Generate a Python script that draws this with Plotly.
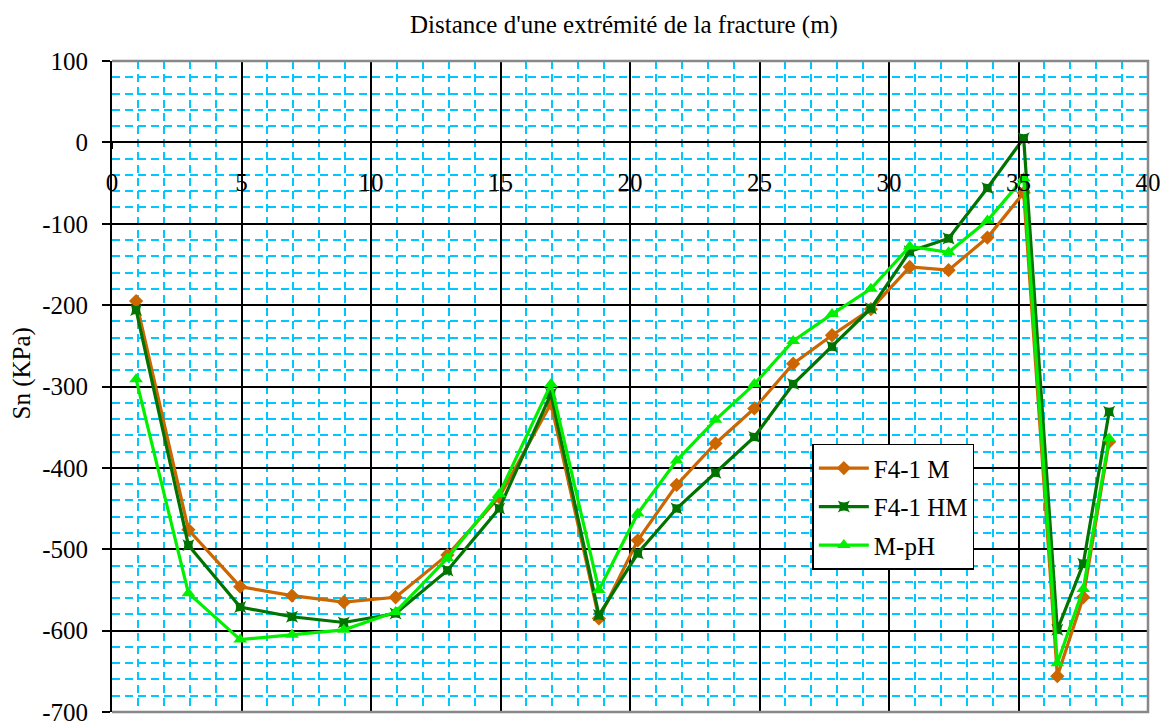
import plotly.graph_objects as go

# Distance along the fracture (m) and normal stress Sn (KPa) for each model
distance = [0.93, 2.95, 4.95, 6.95, 8.95, 10.95, 12.95, 14.95, 16.95, 18.8, 20.3, 21.8,
            23.3, 24.8, 26.3, 27.8, 29.3, 30.8, 32.3, 33.8, 35.2, 36.5, 37.5, 38.5]
sn_f41_m = [-195, -476, -546, -557, -565, -559, -507, -436, -321, -585, -489, -421,
            -370, -327, -272, -237, -205, -153, -157, -117, -62, -656, -559, -368]
sn_f41_hm = [-206, -495, -571, -583, -590, -579, -526, -450, -309, -581, -505, -450,
             -406, -362, -297, -251, -204, -134, -118, -56, 5, -599, -518, -331]
sn_mph = [-291, -554, -611, -605, -599, -577, -511, -432, -297, -550, -456, -391,
          -341, -297, -244, -211, -180, -128, -135, -96, -44, -640, -549, -364]

x_tickvals = [0, 5, 10, 15, 20, 25, 30, 35, 40]
x_ticktext = ["0", "5", "10", "15", "20", "25", "30", "35", "40"]
y_tickvals = [100, 0, -100, -200, -300, -400, -500, -600, -700]
y_ticktext = ["100", "0", "-100", "-200", "-300", "-400", "-500", "-600", "-700"]

FONT = "Liberation Serif, Times New Roman, serif"
FS = 25

series = [
    ("F4-1 M", sn_f41_m, "#CC6600", "diamond", 11),
    ("F4-1 HM", sn_f41_hm, "#007300", "star-square", 11),
    ("M-pH", sn_mph, "#00F000", "triangle-up", 12),
]

fig = go.Figure()
for i, (name, vals, color, symbol, msize) in enumerate(series):
    fig.add_trace(go.Scatter(
        x=distance, y=vals, name=name, mode="lines+markers",
        legendgroup=f"g{i}",
        line=dict(color=color, width=3.2),
        marker=dict(color=color, symbol=symbol, size=msize,
                    line=dict(color=color, width=0)),
    ))

fig.update_layout(
    width=1167, height=727,
    margin=dict(l=112, r=19, t=61, b=15, autoexpand=False),
    paper_bgcolor="white", plot_bgcolor="white",
    font=dict(family=FONT, size=FS, color="black"),
    showlegend=True,
    legend=dict(
        x=0.676, y=0.412, xanchor="left", yanchor="top",
        bgcolor="white", bordercolor="black", borderwidth=1.5,
        font=dict(family=FONT, size=FS, color="black"),
        traceorder="grouped", tracegroupgap=3,
        itemwidth=50,
    ),
    xaxis=dict(
        range=[0, 40], anchor="free", position=0.875, automargin=False,
        tickmode="array", tickvals=x_tickvals, ticktext=x_ticktext,
        showline=True, linecolor="black", linewidth=2,
        ticks="outside", ticklen=6, tickcolor="black", tickwidth=1.5,
        ticklabelstandoff=12, ticklabeloverflow="allow",
        showgrid=True, gridcolor="black", gridwidth=1.5,
        zeroline=False,
        minor=dict(dtick=1, showgrid=True, gridcolor="#00C8FF",
                   gridwidth=1.8, griddash="8px,5px"),
        tickfont=dict(family=FONT, size=FS, color="black"),
    ),
    yaxis=dict(
        range=[-700, 100], automargin=False,
        tickmode="array", tickvals=y_tickvals, ticktext=y_ticktext,
        showline=True, linecolor="black", linewidth=2,
        ticks="outside", ticklen=8, tickcolor="black", tickwidth=1.5,
        ticklabelstandoff=9, ticklabeloverflow="allow",
        showgrid=True, gridcolor="black", gridwidth=1.5,
        zeroline=False,
        minor=dict(dtick=20, showgrid=True, gridcolor="#00C8FF",
                   gridwidth=1.8, griddash="8px,5px"),
        tickfont=dict(family=FONT, size=FS, color="black"),
    ),
    shapes=[dict(
        type="path", xref="paper", yref="paper",
        path="M 0,1 L 1,1 L 1,0 L 0,0",
        line=dict(color="#888888", width=2.5), layer="above",
    )],
    annotations=[
        dict(text="Distance d'une extrémité de la fracture (m)",
             xref="paper", yref="paper", x=0.494, y=1, yshift=36,
             xanchor="center", yanchor="middle", showarrow=False,
             font=dict(family=FONT, size=FS, color="black")),
        dict(text="Sn (KPa)", textangle=-90,
             xref="paper", yref="paper", x=0, xshift=-90, y=0.52,
             xanchor="center", yanchor="middle", showarrow=False,
             font=dict(family=FONT, size=FS, color="black")),
    ],
)

fig.write_html("out.html")
